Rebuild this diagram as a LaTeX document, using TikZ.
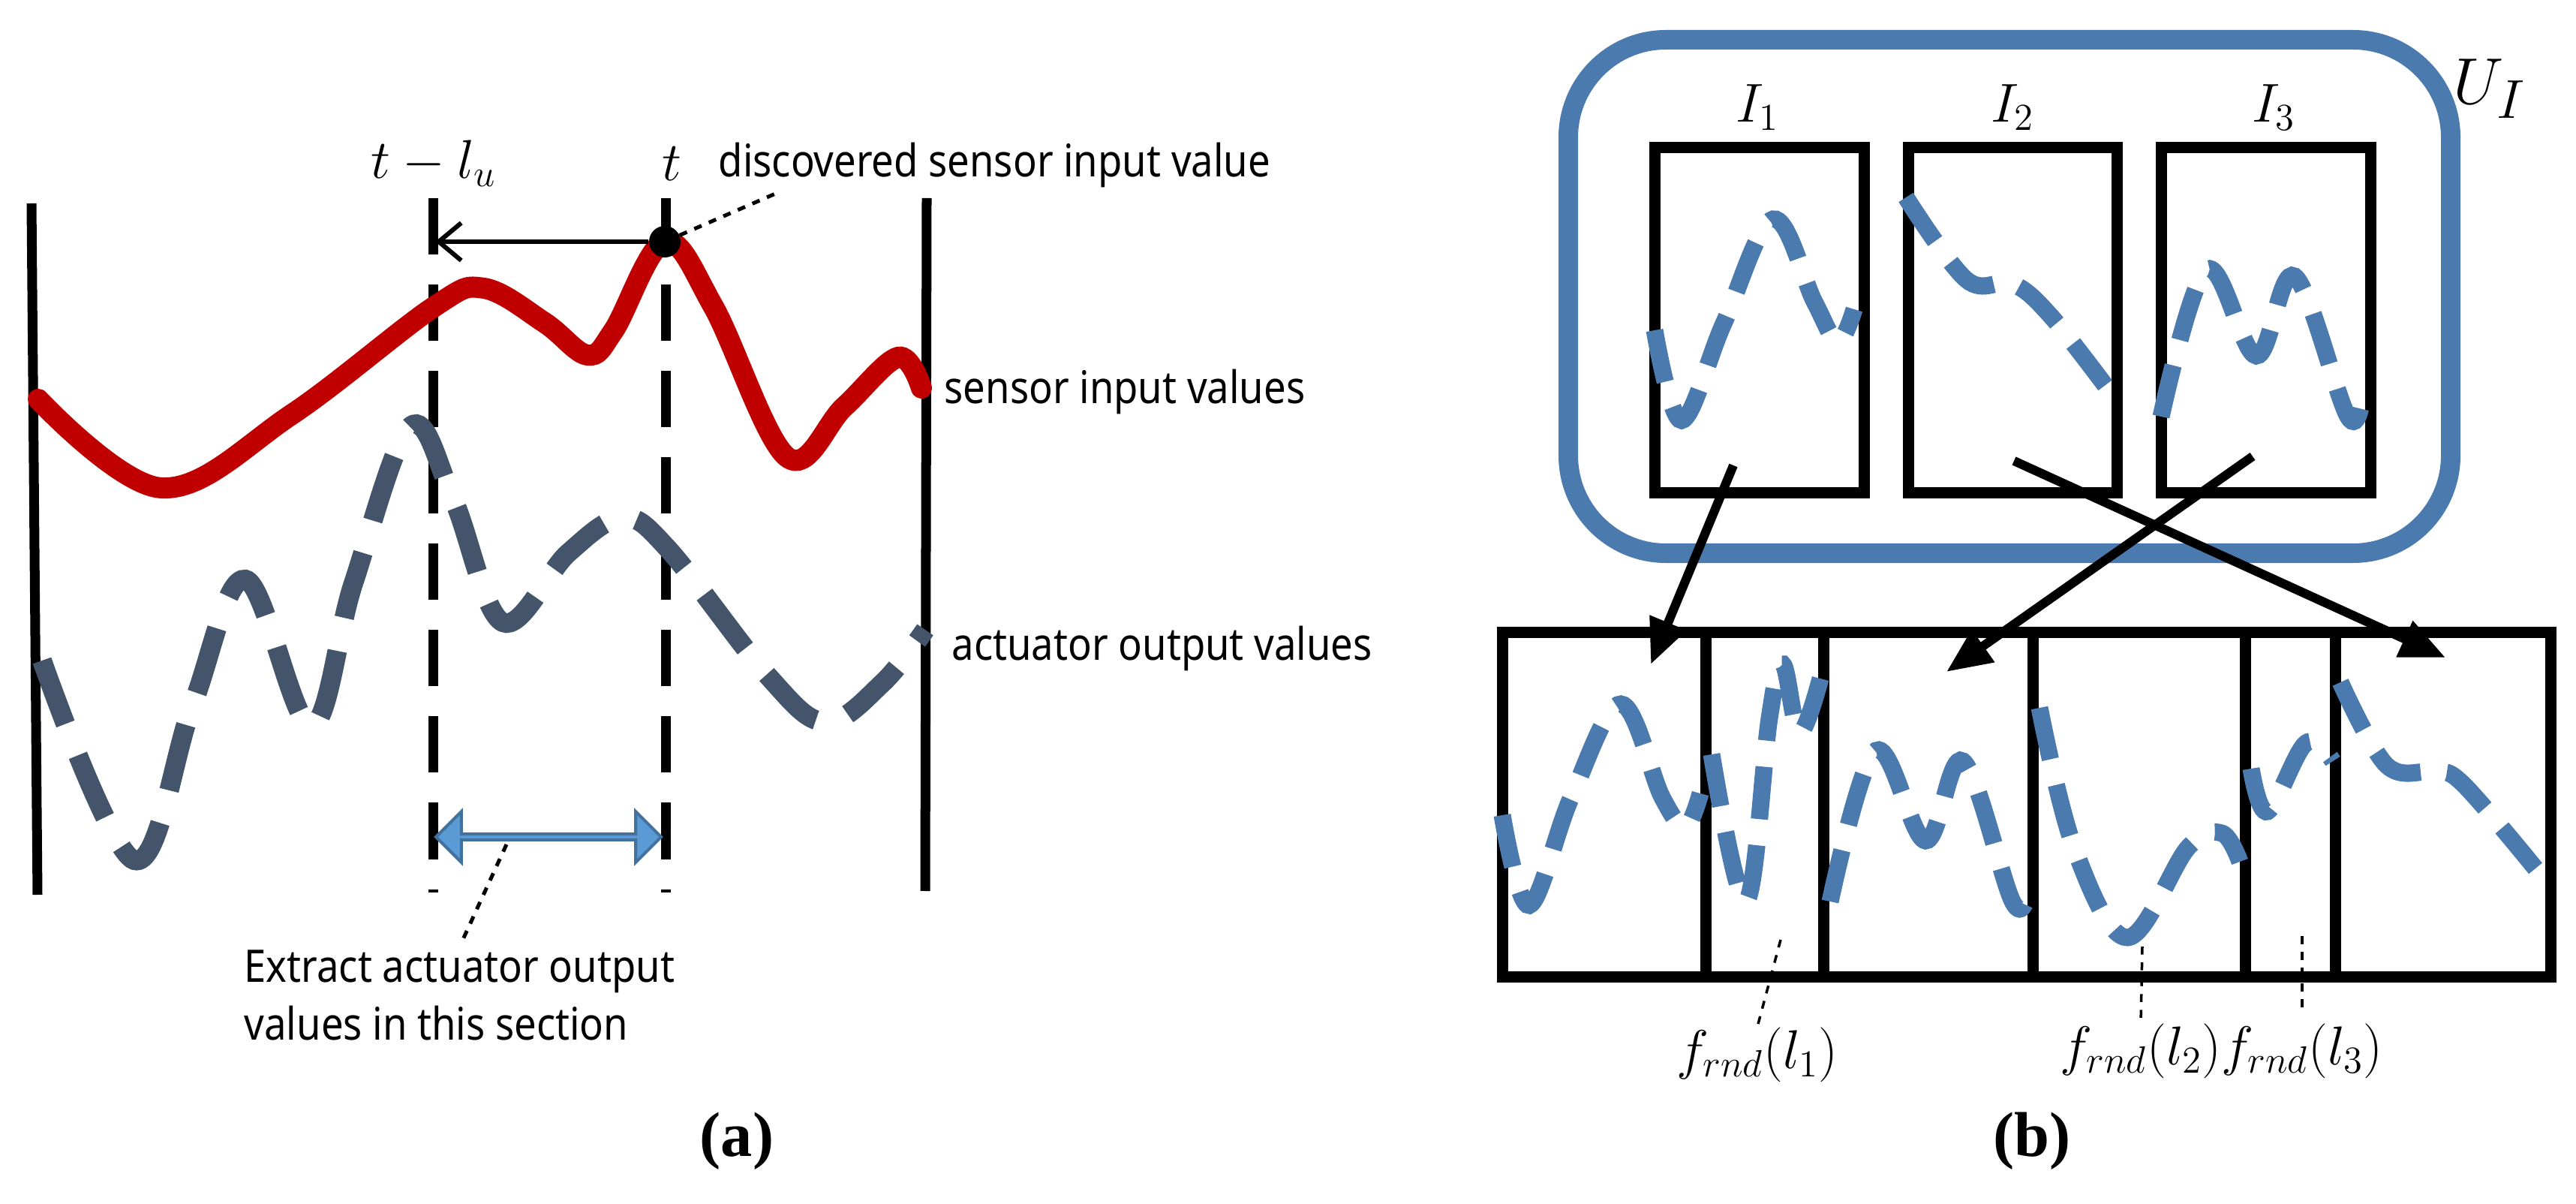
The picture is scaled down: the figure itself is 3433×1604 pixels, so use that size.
\documentclass[tikz,border=0pt]{standalone}
\usepackage{fontspec}
\setmainfont{Liberation Serif}
\newfontfamily\lblfont[FakeStretch=0.88]{Noto Sans}
\usetikzlibrary{arrows.meta,shapes.arrows}
\definecolor{redc}{HTML}{C00000}
\definecolor{grayb}{HTML}{44546A}
\definecolor{blueb}{HTML}{4A7AAE}
\definecolor{arrfill}{HTML}{5B9BD5}
\definecolor{arrdraw}{HTML}{41719C}
\tikzset{
 lbl/.style={font=\lblfont\bfseries\fontsize{17}{22}\selectfont, inner sep=0pt},
 mth/.style={font=\fontsize{20}{24}\selectfont, inner sep=0pt},
 vline/.style={line width=1.3mm},
 vdash/.style={line width=1.3mm, dash pattern=on 7.5mm off 4mm},
 gcurve/.style={grayb, line width=2.6mm, dash pattern=on 9mm off 4.5mm},
 bcurve/.style={blueb, line width=2.3mm, dash pattern=on 7mm off 3.5mm},
 blk/.style={draw, line width=1.5mm},
 pointer/.style={dashed, line width=0.5mm},
 bigarr/.style={-{Triangle[length=6mm,width=5mm]}, line width=1.2mm},
}
\begin{document}
\begin{tikzpicture}[x=0.01cm,y=-0.01cm]
\useasboundingbox (0,0) rectangle (3433,1604);
% ---------- panel (a)
\draw[vline] (42,271) -- (50,1192);
\draw[vline] (1235,264) -- (1233,1187);
\draw[vdash] (577,264) -- (577,1189);
\draw[vdash] (887,264) -- (887,1189);
\draw[redc, line width=2.8mm, line cap=round] plot[smooth, tension=0.6] coordinates {(51,532) (215,650) (389,552) (578,409) (645,384) (726,430) (783,473) (818,440) (886,322) (951,409) (1049,609) (1125,542) (1197,476) (1228,517)};
\draw[gcurve] plot[smooth, tension=0.6] coordinates {(56,880) (179,1146) (256,941) (327,772) (414,967) (471,777) (547,568) (604,665) (670,829) (757,737) (829,690) (890,731) (1023,900) (1100,962) (1176,910) (1233,839)};
\node[mth, font=\itshape\fontsize{22}{26}\selectfont] (tl) at (578,218) {$t-l_u$};
\node[mth, font=\itshape\fontsize{22}{26}\selectfont] (t) at (895,218) {$t$};
\node[circle, fill=black, minimum size=0.42cm, inner sep=0pt] (dot) at (886,322) {};
\coordinate (tlpt) at (580,322);
\draw[-{Straight Barb[length=3mm,width=5mm]}, line width=0.6mm] (dot) -- (tlpt);
\node[lbl, anchor=west] (disc) at (957,220) {discovered sensor input value};
\draw[pointer] (dot) -- (1038,256);
\node[lbl, anchor=west] (sens) at (1258,522) {sensor input values};
\node[lbl, anchor=west] (act) at (1268,864) {actuator output values};
\node[double arrow, fill=arrfill, draw=arrdraw, line width=0.4mm, minimum height=3.0cm, minimum width=0.68cm, double arrow head extend=0.16cm, inner sep=0pt] (sec) at (731,1115) {};
\coordinate (ex1) at (614,1258);
\draw[pointer] (675,1125) -- (ex1);
\node[lbl, anchor=north west, align=left] (ext) at (325,1265) {Extract actuator output\\values in this section};
\node[font=\bfseries\fontsize{24}{28}\selectfont, inner sep=0pt] (a) at (982,1520) {(a)};
% ---------- panel (b)
\draw[blueb, line width=2.6mm, rounded corners=1.3cm] (2090,53) rectangle (3266,737);
\node[blk, minimum width=2.79cm, minimum height=4.6cm, anchor=north west] (I1) at (2198,189) {};
\node[blk, minimum width=2.78cm, minimum height=4.6cm, anchor=north west] (I2) at (2536,189) {};
\node[blk, minimum width=2.79cm, minimum height=4.6cm, anchor=north west] (I3) at (2873,189) {};
\node[mth] (l1) at (2342,143) {$I_1$};
\node[mth] (l2) at (2682,143) {$I_2$};
\node[mth] (l3) at (3030,143) {$I_3$};
\node[mth, font=\fontsize{32}{36}\selectfont] (UI) at (3318,118) {$U_I$};
\draw[bcurve] plot[smooth, tension=0.6] coordinates {(2205,440) (2241,560) (2297,431) (2363,292) (2418,402) (2449,455) (2471,412)};
\draw[bcurve] plot[smooth, tension=0.6] coordinates {(2540,263) (2621,373) (2682,378) (2733,421) (2812,522)};
\draw[bcurve] plot[smooth, tension=0.6] coordinates {(2880,555) (2941,359) (3007,474) (3058,368) (3129,555) (3149,522)};
\node[blk, minimum width=13.96cm, minimum height=4.59cm, anchor=north west] (B) at (1995,835) {};
\foreach \xx in {2273,2430,2709,2992,3112} \draw[line width=1.5mm] (\xx,835) -- (\xx,1294);
\draw[bcurve] plot[smooth, tension=0.6] coordinates {(2002,1086) (2038,1206) (2094,1062) (2160,938) (2215,1062) (2246,1101) (2266,1057)};
\draw[bcurve] plot[smooth, tension=0.6] coordinates {(2281,1005) (2327,1201) (2358,957) (2376,885) (2398,976) (2426,904)};
\draw[bcurve] plot[smooth, tension=0.6] coordinates {(2439,1201) (2500,1000) (2566,1120) (2616,1014) (2682,1201) (2703,1187)};
\draw[bcurve] plot[smooth, tension=0.6] coordinates {(2718,943) (2764,1129) (2835,1249) (2916,1129) (2961,1110) (2985,1148)};
\draw[bcurve] plot[smooth, tension=0.6] coordinates {(3000,1024) (3022,1081) (3073,990) (3109,1014)};
\draw[bcurve] plot[smooth, tension=0.6] coordinates {(3119,909) (3180,1019) (3241,1029) (3281,1043) (3388,1168)};
\coordinate (s1) at (2310,620); \coordinate (e1) at (2200,885);
\coordinate (s2) at (2684,614); \coordinate (e2) at (3259,876);
\coordinate (s3) at (3002,608); \coordinate (e3) at (2594,895);
\draw[bigarr] (s1) -- (e1);
\draw[bigarr] (s2) -- (e2);
\draw[bigarr] (s3) -- (e3);
\node[mth] (f1) at (2342,1405) {$f_{rnd}(l_1)$};
\node[mth] (f2) at (2853,1400) {$f_{rnd}(l_2)$};
\node[mth] (f3) at (3068,1400) {$f_{rnd}(l_3)$};
\draw[pointer, line width=0.35mm] (2373,1252) -- (f1.north);
\draw[pointer, line width=0.35mm] (2855,1261) -- (f2.north);
\draw[pointer, line width=0.35mm] (3068,1247) -- (3068,1345);
\node[font=\bfseries\fontsize{24}{28}\selectfont, inner sep=0pt] (b) at (2708,1520) {(b)};
\end{tikzpicture}
\end{document}
